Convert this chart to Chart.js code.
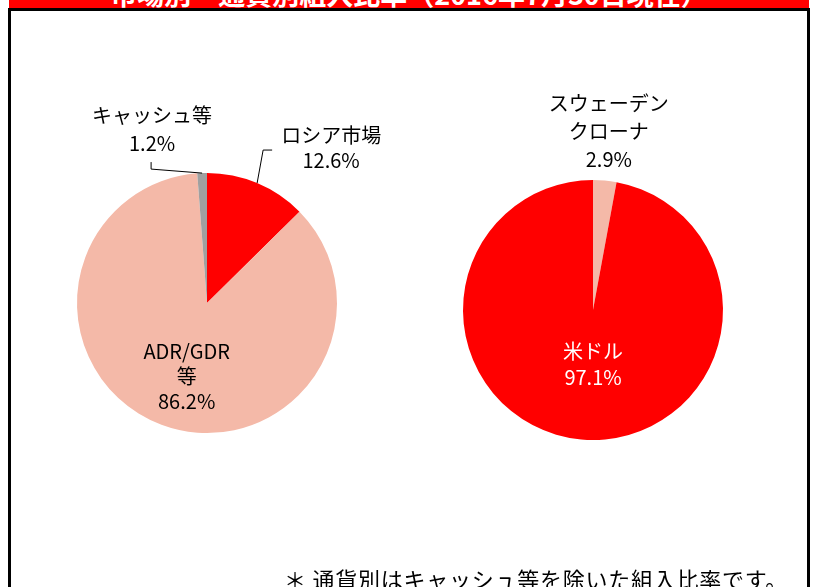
<!DOCTYPE html>
<html><head><meta charset="utf-8">
<script src="https://cdn.jsdelivr.net/npm/chart.js@4"></script>
<style>
html,body{margin:0;padding:0;background:#fff;width:816px;height:587px;overflow:hidden;font-family:"Noto Sans CJK JP",sans-serif}
#banner{position:absolute;left:9px;top:0;width:800px;height:8px;background:#ff0000;overflow:hidden}
#banner span{position:absolute;left:0;right:0;text-align:center;top:-20px;white-space:nowrap;color:#fff;font-weight:bold;font-size:27px;line-height:27px}
#frame{position:absolute;left:8px;top:8px;width:796px;height:600px;border:3px solid #000}
#note{position:absolute;left:284px;top:567px;font-size:22px;line-height:22px;letter-spacing:0.75px;white-space:nowrap;color:#000}
#c1{position:absolute;left:0;top:0}
#c2{position:absolute;left:408px;top:0}
</style>
</head><body>
<div id="banner"><span>市場別・通貨別組入比率（2016年7月30日現在）</span></div>
<div id="frame"></div>
<canvas id="c1" width="408" height="587"></canvas>
<canvas id="c2" width="408" height="587"></canvas>
<div id="note">＊ 通貨別はキャッシュ等を除いた組入比率です。</div>
<script>
const marketLabels = ['ロシア市場', 'ADR/GDR等', 'キャッシュ等'];
const marketValues = [12.6, 86.2, 1.2];
const marketColors = ['#ff0000', '#f4b9a8', '#a0a0a0'];
const currencyLabels = ['スウェーデンクローナ', '米ドル'];
const currencyValues = [2.9, 97.1];
const currencyColors = ['#f4b9a8', '#ff0000'];

const marketLines = [['ロシア市場'], ['ADR/GDR', '等'], ['キャッシュ等']];
const currencyLines = [['スウェーデン', 'クローナ'], ['米ドル']];

const labelPlugin = {
  id: 'sliceLabels',
  afterDatasetsDraw(chart, args, opts) {
    const ctx = chart.ctx;
    const meta = chart.getDatasetMeta(0);
    const ds = chart.data.datasets[0];
    meta.data.forEach((arc, i) => {
      const cfg = opts.items[i];
      if (!cfg) return;
      const p = arc.getProps(['x', 'y', 'startAngle', 'endAngle', 'outerRadius'], true);
      const mid = (p.startAngle + p.endAngle) / 2;
      const lines = [...opts.names[i], ds.data[i].toFixed(1) + '%'];
      ctx.save();
      ctx.font = '20px "Noto Sans CJK JP"';
      ctx.fillStyle = cfg.color || '#000';
      ctx.textAlign = 'center';
      ctx.textBaseline = 'middle';
      let tx, ty;
      if (cfg.inside != null) {
        tx = p.x + Math.cos(mid) * p.outerRadius * cfg.inside + (cfg.shift ? cfg.shift[0] : 0);
        ty = p.y + Math.sin(mid) * p.outerRadius * cfg.inside + (cfg.shift ? cfg.shift[1] : 0);
      } else {
        const ex = p.x + Math.cos(mid) * p.outerRadius;
        const ey = p.y + Math.sin(mid) * p.outerRadius;
        let lx = ex, ly = ey;
        if (cfg.leader) {
          ctx.beginPath();
          ctx.moveTo(ex, ey);
          cfg.leader.forEach(([dx, dy]) => { lx += dx; ly += dy; ctx.lineTo(lx, ly); });
          ctx.strokeStyle = '#000';
          ctx.lineWidth = 1;
          ctx.stroke();
        }
        tx = lx + cfg.text[0];
        ty = ly + cfg.text[1];
      }
      const lh = cfg.lh || 27;
      const y0 = ty - (lines.length - 1) * lh / 2;
      lines.forEach((l, k) => ctx.fillText(l, tx, y0 + k * lh));
      ctx.restore();
    });
  }
};

function makePie(id, labels, values, colors, pad, names, items) {
  return new Chart(document.getElementById(id), {
    type: 'pie',
    data: { labels: labels, datasets: [{ data: values, backgroundColor: colors, borderWidth: 0 }] },
    options: {
      responsive: false,
      animation: false,
      layout: { padding: pad },
      plugins: {
        legend: { display: false },
        tooltip: { enabled: false },
        title: { display: false },
        sliceLabels: { names: names, items: items }
      }
    },
    plugins: [labelPlugin]
  });
}

makePie('c1', marketLabels, marketValues, marketColors,
  { left: 77, right: 71, top: 173, bottom: 154 }, marketLines,
  [
    { leader: [[6, -33], [9, 0]], text: [59, -2], lh: 25 },
    { inside: 0.6, shift: [7, 0], lh: 25 },
    { leader: [[-51, -4], [0, -7]], text: [1, -33], lh: 28 }
  ]);

makePie('c2', currencyLabels, currencyValues, currencyColors,
  { left: 55, right: 93, top: 180, bottom: 147 }, currencyLines,
  [
    { text: [4, -49], lh: 28 },
    { inside: 0.42, shift: [5, 0], color: '#fff', lh: 26 }
  ]);
</script>
</body></html>
